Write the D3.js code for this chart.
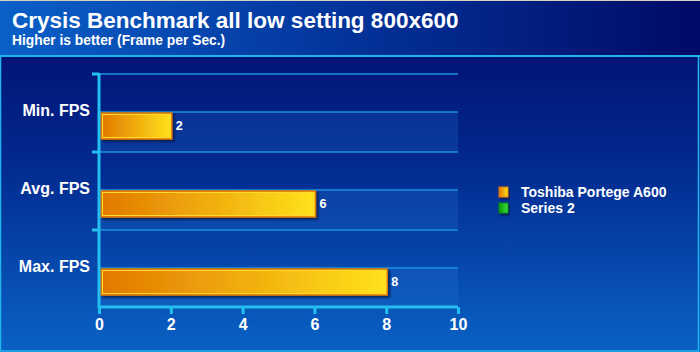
<!DOCTYPE html>
<html>
<head>
<meta charset="utf-8">
<style>
  body { margin: 0; background: #fff; }
  text { font-family: Arial, "Liberation Sans", sans-serif; font-weight: bold; fill: #fff; }
</style>
</head>
<body>
<script src="https://d3js.org/d3.v7.min.js"></script>
<script>
var categories = ["Min. FPS", "Avg. FPS", "Max. FPS"];
var values = [2, 6, 8];
var xTicks = [0, 2, 4, 6, 8, 10];
var seriesNames = ["Toshiba Portege A600", "Series 2"];
var title = "Crysis Benchmark all low setting 800x600";
var subtitle = "Higher is better (Frame per Sec.)";

var width = 700, height = 352;
var svg = d3.select('body').append('svg').attr('width', width).attr('height', height);
var defs = svg.append('defs');

// gradients
var hg = defs.append('linearGradient').attr('id', 'head').attr('x1', 0).attr('x2', 1);
hg.append('stop').attr('offset', 0).attr('stop-color', '#0a60c8');
hg.append('stop').attr('offset', 0.5).attr('stop-color', '#03339a');
hg.append('stop').attr('offset', 1).attr('stop-color', '#000a66');

var pg = defs.append('linearGradient').attr('id', 'plot').attr('x1', 0).attr('x2', 0).attr('y1', 0).attr('y2', 1);
pg.append('stop').attr('offset', 0).attr('stop-color', '#000a6a');
pg.append('stop').attr('offset', 0.45).attr('stop-color', '#02288e');
pg.append('stop').attr('offset', 1).attr('stop-color', '#0a62c4');

var bg = defs.append('linearGradient').attr('id', 'bar').attr('x1', 0).attr('x2', 1);
bg.append('stop').attr('offset', 0).attr('stop-color', '#e27800');
bg.append('stop').attr('offset', 1).attr('stop-color', '#ffe21c');

var gg = defs.append('linearGradient').attr('id', 'green').attr('x1', 0).attr('x2', 1);
gg.append('stop').attr('offset', 0).attr('stop-color', '#0a9a10');
gg.append('stop').attr('offset', 1).attr('stop-color', '#40e040');

var sh = defs.append('filter').attr('id', 'shadow').attr('x', -0.1).attr('y', -0.3).attr('width', 1.3).attr('height', 1.8);
sh.append('feDropShadow').attr('dx', 2).attr('dy', 2).attr('stdDeviation', 1.2)
  .attr('flood-color', '#000830').attr('flood-opacity', 0.7);

// backgrounds
svg.append('rect').attr('width', width).attr('height', height).attr('fill', 'url(#plot)');
svg.append('rect').attr('width', width).attr('height', 55).attr('fill', 'url(#head)');
svg.append('rect').attr('width', width).attr('height', 1).attr('fill', '#d8d0c0');
svg.append('rect').attr('x', 0).attr('y', 55).attr('width', width).attr('height', 2).attr('fill', '#22b4ec');
svg.append('rect').attr('x', 0.5).attr('y', 56).attr('width', width - 2).attr('height', height - 57)
  .attr('fill', 'none').attr('stroke', '#22b4ec').attr('stroke-width', 1.5);

svg.append('text').attr('x', 12).attr('y', 28).style('font-size', '22.5px').text(title);
svg.append('text').attr('x', 12).attr('y', 45).style('font-size', '13.8px').text(subtitle);

// scales
var x = d3.scaleLinear().domain([0, 10]).range([99, 458]);
var y = d3.scaleBand().domain(categories).range([74, 308]);

// lighter back strips
svg.selectAll('.strip').data(categories).join('rect')
  .attr('class', 'strip')
  .attr('x', x(0)).attr('width', x(10) - x(0))
  .attr('y', function (d) { return y(d) + y.bandwidth() / 2 - 1; })
  .attr('height', y.bandwidth() / 2 + 1)
  .attr('fill', '#2a7ad8').attr('fill-opacity', 0.22);

// gridlines
var grid = [y.range()[0]].concat(categories.map(function (d) { return y(d) + y.bandwidth() / 2 - 1; }))
  .concat(categories.slice(1).map(function (d) { return y(d); }));
svg.selectAll('.grid').data(grid).join('line')
  .attr('x1', x(0)).attr('x2', x(10))
  .attr('y1', function (d) { return d; }).attr('y2', function (d) { return d; })
  .attr('stroke', '#1a90e0').attr('stroke-width', 1.5);

// bars
svg.selectAll('.bar').data(values).join('rect')
  .attr('class', 'bar')
  .attr('x', x(0) + 2)
  .attr('y', function (d, i) { return y(categories[i]) + y.bandwidth() / 2; })
  .attr('width', function (d) { return x(d) - x(0) - 1; })
  .attr('height', 26)
  .attr('fill', 'url(#bar)')
  .attr('stroke', '#e07a00').attr('stroke-width', 1.5)
  .attr('filter', 'url(#shadow)');
svg.selectAll('.barin').data(values).join('rect')
  .attr('class', 'barin')
  .attr('x', x(0) + 3.5)
  .attr('y', function (d, i) { return y(categories[i]) + y.bandwidth() / 2 + 1.5; })
  .attr('width', function (d) { return x(d) - x(0) - 4; })
  .attr('height', 23)
  .attr('fill', 'none')
  .attr('stroke', '#ffd830').attr('stroke-width', 1);

svg.selectAll('.val').data(values).join('text')
  .attr('class', 'val')
  .attr('x', function (d) { return x(d) + 5; })
  .attr('y', function (d, i) { return y(categories[i]) + y.bandwidth() / 2 + 13; })
  .attr('dy', '0.35em')
  .style('font-size', '12.5px')
  .text(function (d) { return d; });

// axes
var xAxis = svg.append('g').attr('transform', 'translate(0,307)')
  .call(d3.axisBottom(x).tickValues(xTicks).tickSize(7).tickPadding(5));
xAxis.selectAll('text').style('font-size', '16px').attr('fill', '#fff');
xAxis.selectAll('line').attr('stroke', '#22bff0').attr('stroke-width', 3);
xAxis.select('.domain').attr('stroke', '#22bff0').attr('stroke-width', 3).attr('d', 'M' + x(0) + ',0H' + x(10));

var yAxis = svg.append('g').attr('transform', 'translate(99,0)')
  .call(d3.axisLeft(y).tickSize(0).tickPadding(9));
yAxis.selectAll('text').style('font-size', '16px').attr('fill', '#fff')
  .attr('transform', 'translate(0,' + (-1) + ')');
yAxis.select('.domain').attr('stroke', '#22bff0').attr('stroke-width', 3).attr('d', 'M0,73V308');
yAxis.selectAll('.bnd').data([74, 152, 230]).join('line')
  .attr('x1', -7).attr('x2', 0)
  .attr('y1', function (d) { return d; }).attr('y2', function (d) { return d; })
  .attr('stroke', '#22bff0').attr('stroke-width', 3);
// move category labels up to band middle
yAxis.selectAll('.tick').attr('transform', function (d) { return 'translate(0,' + (y(d) + y.bandwidth() / 2 - 1) + ')'; });

// legend
var legend = svg.append('g').attr('transform', 'translate(499,187)');
var fills = ['url(#bar)', 'url(#green)'];
var strokes = ['#e07a00', '#0a8a10'];
legend.selectAll('rect').data(seriesNames).join('rect')
  .attr('x', 0).attr('y', function (d, i) { return i * 16; })
  .attr('width', 9).attr('height', 10)
  .attr('fill', function (d, i) { return fills[i]; })
  .attr('stroke', function (d, i) { return strokes[i]; }).attr('stroke-width', 1)
  .attr('filter', 'url(#shadow)');
legend.selectAll('text').data(seriesNames).join('text')
  .attr('x', 22).attr('y', function (d, i) { return i * 16 + 5; })
  .attr('dy', '0.35em')
  .style('font-size', '14px')
  .text(function (d) { return d; });
</script>
</body>
</html>
